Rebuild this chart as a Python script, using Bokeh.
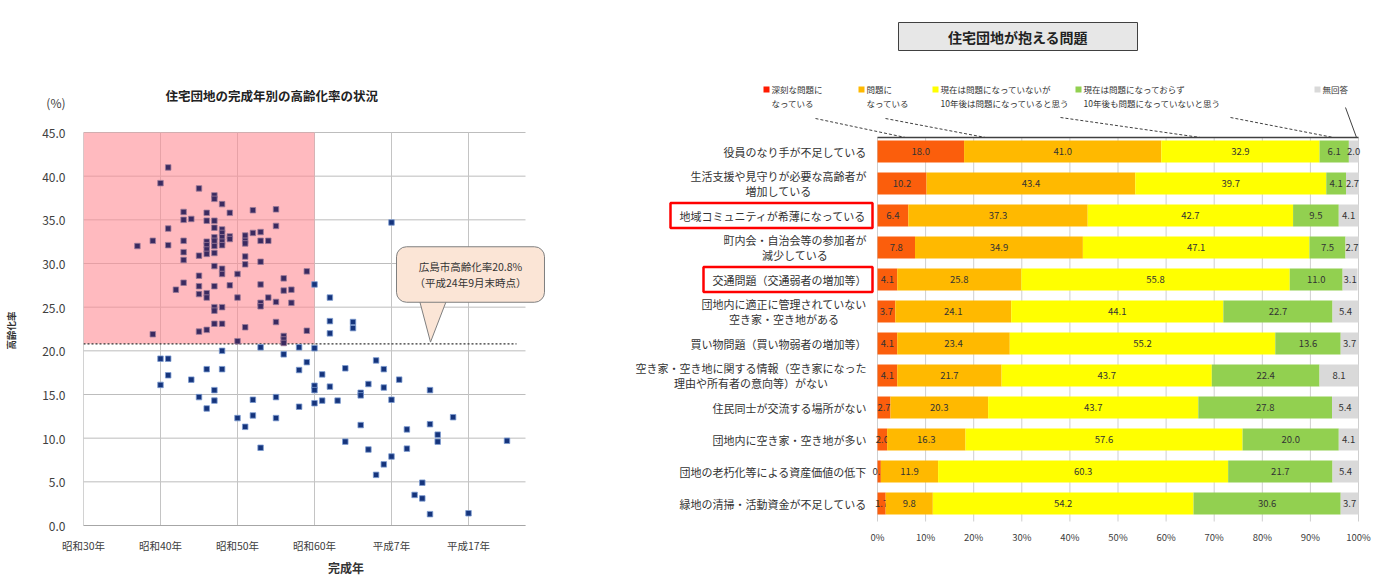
import math
from bokeh.plotting import figure
from bokeh.layouts import row
from bokeh.models import Range1d, FixedTicker, NumeralTickFormatter, Label, ColumnDataSource
from bokeh.core.properties import value
from bokeh.embed import file_html
from bokeh.resources import INLINE

FONT = "Noto Sans CJK JP"

# ---------------- left chart data ----------------
left_title = "住宅団地の完成年別の高齢化率の状況"
completion_year = [
    1966, 1965, 1970, 1972, 1972, 1973, 1968, 1971, 1974, 1977, 1980, 1968, 1969, 1971, 1972,
    1972, 1980, 1966, 1973, 1977, 1978, 1976, 1973, 1974, 1973, 1972, 1972, 1962, 1964, 1968,
    1971, 1972, 1973, 1974, 1976, 1978, 1979, 1966, 1971, 1971, 1973, 1976, 1971, 1972, 1970,
    1968, 1968, 1976, 1976, 1978, 1972, 1973, 1973, 1975, 1970, 1984, 1981, 1968, 1967, 1970,
    1970, 1971, 1971, 1972, 1974, 1978, 1981, 1982, 1975, 1979, 1978, 1978, 1980, 1982, 1972,
    1972, 1973, 1972, 1973, 1970, 1971, 1976, 1980, 1964, 1984, 1981, 1981, 1975, 1981,
    1985, 1987, 1987, 1987, 1990, 1990, 1995, 1978, 1983, 1985, 1981, 1973, 1965, 1966, 1965,
    1966, 1969, 1971, 1973, 1972, 1970, 1972, 1971, 1975, 1976, 1977, 1977, 1978, 1980, 1980,
    1983, 1983, 1984, 1985, 1985, 1985, 1986, 1986, 1987, 1988, 1989, 1989, 1991, 1991, 1991,
    1992, 1992, 1993, 1994, 1994, 1995, 1993, 1994, 1995, 1996, 1997, 1997, 1999, 1998, 1999,
    2000, 2000, 2000, 2001, 2001, 2003, 2005, 2010,
]
aging_rate = [
    41.0, 39.2, 38.6, 37.8, 37.4, 36.8, 35.9, 35.8, 35.8, 36.1, 36.2, 35.0, 35.1, 34.9, 34.9,
    34.1, 34.3, 34.0, 33.9, 33.5, 33.6, 33.2, 33.5, 33.1, 33.0, 33.0, 32.6, 32.0, 32.6, 32.6,
    32.5, 32.0, 32.5, 32.8, 32.6, 32.6, 32.6, 32.1, 32.1, 31.6, 32.1, 32.3, 31.1, 31.2, 30.9,
    31.3, 30.4, 30.8, 29.9, 30.2, 29.7, 29.4, 28.8, 28.8, 28.6, 29.1, 28.3, 27.8, 27.0, 27.4,
    26.5, 26.6, 26.1, 27.4, 27.5, 27.6, 26.9, 27.0, 26.1, 26.1, 25.5, 25.1, 25.6, 25.5, 25.0,
    24.6, 25.0, 23.1, 23.1, 22.2, 22.4, 22.7, 23.3, 21.9, 22.3, 21.7, 21.3, 21.1, 20.9,
    27.6, 26.1, 23.4, 22.0, 23.3, 22.6, 34.7, 20.4, 20.4, 20.3, 19.6, 20.0, 19.1, 19.1, 16.1,
    17.2, 16.7, 17.9, 17.9, 15.5, 14.7, 14.3, 13.4, 12.3, 11.3, 14.4, 12.6, 8.9, 14.7, 12.3,
    17.8, 13.6, 18.7, 16.0, 15.5, 14.0, 17.3, 14.3, 15.9, 14.3, 18.0, 9.6, 15.2, 14.9, 11.5,
    16.2, 8.7, 18.9, 17.9, 15.8, 14.4, 5.8, 7.0, 7.9, 16.7, 11.0, 8.8, 4.9, 3.5, 3.1,
    1.3, 15.5, 11.6, 10.4, 9.6, 12.4, 1.4, 9.7,
]
city_rate = 20.8
boundary_year = 1985
y_ticks = [0, 5, 10, 15, 20, 25, 30, 35, 40, 45]
x_tick_years = [1955, 1965, 1975, 1985, 1995, 2005]
x_tick_labels = ["昭和30年", "昭和40年", "昭和50年", "昭和60年", "平成7年", "平成17年"]
callout_text = "広島市高齢化率20.8%\n（平成24年9月末時点）"
unit_label = "(%)"
y_label = "高齢化率"
x_label = "完成年"

# ---------------- right chart data ----------------
right_title = "住宅団地が抱える問題"
problems = [
    "役員のなり手が不足している",
    "生活支援や見守りが必要な高齢者が\n増加している",
    "地域コミュニティが希薄になっている",
    "町内会・自治会等の参加者が\n減少している",
    "交通問題（交通弱者の増加等）",
    "団地内に適正に管理されていない\n空き家・空き地がある",
    "買い物問題（買い物弱者の増加等）",
    "空き家・空き地に関する情報（空き家になった\n理由や所有者の意向等）がない",
    "住民同士が交流する場所がない",
    "団地内に空き家・空き地が多い",
    "団地の老朽化等による資産価値の低下",
    "緑地の清掃・活動資金が不足している",
]
serious = [18.0, 10.2, 6.4, 7.8, 4.1, 3.7, 4.1, 4.1, 2.7, 2.0, 0.7, 1.7]
problem = [41.0, 43.4, 37.3, 34.9, 25.8, 24.1, 23.4, 21.7, 20.3, 16.3, 11.9, 9.8]
future_problem = [32.9, 39.7, 42.7, 47.1, 55.8, 44.1, 55.2, 43.7, 43.7, 57.6, 60.3, 54.2]
no_problem = [6.1, 4.1, 9.5, 7.5, 11.0, 22.7, 13.6, 22.4, 27.8, 20.0, 21.7, 30.6]
no_answer = [2.0, 2.7, 4.1, 2.7, 3.1, 5.4, 3.7, 8.1, 5.4, 4.1, 5.4, 3.7]
series_names = [
    "深刻な問題に\nなっている",
    "問題に\nなっている",
    "現在は問題になっていないが\n10年後は問題になっていると思う",
    "現在は問題になっておらず\n10年後も問題になっていないと思う",
    "無回答",
]
series_colors = ["#fb5e0c", "#ffb900", "#ffff00", "#92d050", "#d9d9d9"]
legend_colors = ["#ff1a00", "#ffb900", "#ffff00", "#92d050", "#d9d9d9"]
pct_ticks = [0, 10, 20, 30, 40, 50, 60, 70, 80, 90, 100]
highlighted = [2, 4]

# ---------------- page layout (page origin = top-left of first figure) ----------------
H = 584
BOTTOM_BORDER = 59
FRAME_BOTTOM = H - BOTTOM_BORDER      # 525
W0 = 22                               # strip holding the vertical y label
LW = 586                              # left chart figure
RW = 765                              # right chart figure

# ======================= Y-LABEL STRIP =======================
p0 = figure(width=W0, height=H, x_range=Range1d(0, W0), y_range=Range1d(FRAME_BOTTOM, 0),
            output_backend="svg", toolbar_location=None, x_axis_location=None,
            y_axis_location=None, min_border_left=0, min_border_right=0, min_border_top=0,
            min_border_bottom=BOTTOM_BORDER)
p0.outline_line_color = None
p0.xgrid.visible = False
p0.ygrid.visible = False
p0.text(x=[10], y=[330], text=[y_label], angle=math.pi / 2, text_align="center",
        text_baseline="middle", text_font=value(FONT), text_font_size=value("9.5px"),
        text_font_style="bold", text_color="#333333")

# ======================= LEFT FIGURE =======================
L_X0_PX, L_PX_PER_YEAR = 83.0, 7.7
L_TOP45_PX = 132.0
L_PX_PER_UNIT = (FRAME_BOTTOM - L_TOP45_PX) / 45.0


def lx(px):
    return x_tick_years[0] + (px - L_X0_PX) / L_PX_PER_YEAR


def ly(py):
    return (FRAME_BOTTOM - py) / L_PX_PER_UNIT


plot_end = lx(525)
p1 = figure(width=LW, height=H, x_range=Range1d(lx(L_X0_PX), lx(W0 + LW)),
            y_range=Range1d(ly(FRAME_BOTTOM), ly(0)),
            output_backend="svg", toolbar_location=None,
            min_border_left=int(L_X0_PX - W0), min_border_right=0, min_border_top=0,
            min_border_bottom=BOTTOM_BORDER)
p1.outline_line_color = None
p1.xgrid.visible = False
p1.ygrid.visible = False

unit_pos = round(ly(102), 2)
yax = p1.yaxis[0]
yax.ticker = FixedTicker(ticks=y_ticks + [unit_pos])
yax.formatter = NumeralTickFormatter(format="0.0")
yax.major_label_overrides = {unit_pos: unit_label}
yax.major_label_text_font = FONT
yax.major_label_text_font_size = "12px"
yax.major_label_text_color = "#404040"
yax.major_tick_line_color = None
yax.minor_tick_line_color = None
yax.major_tick_out = 0
yax.major_tick_in = 0
yax.major_label_standoff = 18
yax.axis_line_color = None

xax = p1.xaxis[0]
xax.ticker = FixedTicker(ticks=x_tick_years)
xax.major_label_overrides = {y: l for y, l in zip(x_tick_years, x_tick_labels)}
xax.bounds = (x_tick_years[0], plot_end)
xax.major_label_text_font = FONT
xax.major_label_text_font_size = "10.5px"
xax.major_label_text_color = "#404040"
xax.major_tick_line_color = None
xax.minor_tick_line_color = None
xax.major_tick_out = 0
xax.major_tick_in = 0
xax.major_label_standoff = 12
xax.axis_line_color = "#a6a6a6"
xax.axis_label = x_label
xax.axis_label_text_font = FONT
xax.axis_label_text_font_size = "12px"
xax.axis_label_text_font_style = "bold"
xax.axis_label_text_color = "#333333"
xax.axis_label_standoff = 3

# grid lines limited to the plot area
p1.segment(x0=[x_tick_years[0]] * len(y_ticks), y0=y_ticks, x1=[plot_end] * len(y_ticks),
           y1=y_ticks, line_color="#bdbdbd", line_width=1)
p1.segment(x0=x_tick_years[1:], y0=[0] * 5, x1=x_tick_years[1:], y1=[y_ticks[-1]] * 5,
           line_color="#c4c4c4", line_width=1)
p1.segment(x0=[x_tick_years[0]], y0=[0], x1=[x_tick_years[0]], y1=[y_ticks[-1]],
           line_color="#a6a6a6", line_width=1)

# pink zone (old estates above city rate)
p1.quad(left=x_tick_years[0], right=boundary_year, bottom=city_rate, top=y_ticks[-1],
        fill_color="#ff8c94", fill_alpha=0.6, line_color=None)
p1.segment(x0=[x_tick_years[0]], y0=[city_rate], x1=[lx(516)], y1=[city_rate],
           line_color="#333333", line_dash="2 2", line_width=1.2)

inside = [(x < boundary_year and y > city_rate) for x, y in zip(completion_year, aging_rate)]
src_in = ColumnDataSource(dict(x=[x for x, f in zip(completion_year, inside) if f],
                               y=[y for y, f in zip(aging_rate, inside) if f]))
src_out = ColumnDataSource(dict(x=[x for x, f in zip(completion_year, inside) if not f],
                                y=[y for y, f in zip(aging_rate, inside) if not f]))
p1.scatter("x", "y", source=src_in, marker="square", size=5.5,
           fill_color="#3a2a60", line_color="#9a7a98", line_width=0.8)
p1.scatter("x", "y", source=src_out, marker="square", size=5.5,
           fill_color="#15347c", line_color="#7b9bd0", line_width=0.8)

# callout
p1.patch([lx(419), lx(446), lx(430)], [ly(300), ly(300), city_rate + 0.2],
         fill_color="#fbe5d6", line_color="#7f7f7f", line_width=1)
p1.add_layout(Label(x=lx(470), y=ly(274), text=callout_text, text_align="center",
                    text_baseline="middle", text_font=FONT, text_font_size="10.5px",
                    text_color="#333333", text_line_height=1.1,
                    background_fill_color="#fbe5d6", border_line_color="#7f7f7f",
                    border_line_width=1, padding=(18, 12), border_radius=10))

# title
p1.text(x=[lx(165)], y=[ly(95)], text=[left_title], text_align="left", text_baseline="middle",
        text_font=value(FONT), text_font_size=value("12.5px"), text_font_style="bold",
        text_color="#222222")

# ======================= RIGHT FIGURE =======================
PX0, PX100 = 877.0, 1358.0
PPU = (PX100 - PX0) / 100.0
FIG_LEFT = float(W0 + LW)
ROW1_PY, ROW_STEP = 151.0, 32.0


def fx(px):
    return (px - PX0) / PPU


def fy(py):
    return (py - ROW1_PY) / ROW_STEP + 1


p2 = figure(width=RW, height=H,
            x_range=Range1d(fx(FIG_LEFT), fx(FIG_LEFT + RW)),
            y_range=Range1d(fy(FRAME_BOTTOM), fy(0)),
            output_backend="svg", toolbar_location=None, y_axis_location=None,
            min_border_left=0, min_border_right=0, min_border_top=0,
            min_border_bottom=BOTTOM_BORDER)
p2.outline_line_color = None
p2.xgrid.visible = False
p2.ygrid.visible = False

ax2 = p2.xaxis[0]
ax2.ticker = FixedTicker(ticks=pct_ticks)
ax2.major_label_overrides = {t: f"{t}%" for t in pct_ticks}
ax2.major_label_text_font = FONT
ax2.major_label_text_font_size = "9.5px"
ax2.major_label_text_color = "#404040"
ax2.axis_line_color = None
ax2.major_tick_line_color = None
ax2.minor_tick_line_color = None
ax2.major_tick_out = 0
ax2.major_tick_in = 0
ax2.major_label_standoff = 4

# grid lines for the bar area
p2.segment(x0=pct_ticks, y0=[fy(137)] * len(pct_ticks), x1=pct_ticks,
           y1=[fy(521)] * len(pct_ticks), line_color="#cfcfcf", line_width=1)

rows = list(range(1, len(problems) + 1))
series = [serious, problem, future_problem, no_problem, no_answer]
cum = [0.0] * len(problems)
for vals, col in zip(series, series_colors):
    left = cum[:]
    right = [a + b for a, b in zip(cum, vals)]
    src = ColumnDataSource(dict(y=rows, left=left, right=right,
                                mid=[(a + b) / 2 for a, b in zip(left, right)],
                                lab=[f"{v:.1f}" for v in vals]))
    p2.hbar(y="y", left="left", right="right", height=22 / ROW_STEP, source=src,
            fill_color=col, line_color=None)
    p2.text(x="mid", y="y", text="lab", source=src, text_align="center",
            text_baseline="middle", text_font=value(FONT), text_font_size=value("9.5px"),
            text_color="#333333")
    cum = right

# top axis line
p2.segment(x0=[pct_ticks[0]], y0=[fy(137)], x1=[pct_ticks[-1]], y1=[fy(137)],
           line_color="#404040", line_width=1.6)

# category labels
LAB_FS = 11.0
LAB_RIGHT = 866.0


def text_w(s, fs):
    return sum(fs if ord(c) > 255 else 0.6 * fs for c in s)


single_x, single_y, single_t = [], [], []
multi_x, multi_y, multi_t = [], [], []
for r, lab in zip(rows, problems):
    lines = lab.split("\n")
    if len(lines) == 1:
        single_x.append(fx(LAB_RIGHT)); single_y.append(r); single_t.append(lab)
    else:
        w = max(text_w(l, LAB_FS) for l in lines)
        multi_x.append(fx(LAB_RIGHT - w / 2)); multi_y.append(r); multi_t.append(lab)
p2.text(x=single_x, y=single_y, text=single_t, text_align="right", text_baseline="middle",
        text_font=value(FONT), text_font_size=value("11px"), text_color="#333333")
p2.text(x=multi_x, y=multi_y, text=multi_t, text_align="center", text_baseline="middle",
        text_font=value(FONT), text_font_size=value("11px"), text_color="#333333",
        text_line_height=0.95)

# red highlight boxes
for r in highlighted:
    w = text_w(problems[r], LAB_FS)
    p2.quad(left=fx(LAB_RIGHT - w - 9), right=fx(LAB_RIGHT + 6),
            top=fy(ROW1_PY + r * ROW_STEP - 12.5), bottom=fy(ROW1_PY + r * ROW_STEP + 12.5),
            fill_color=None, line_color="#ff0000", line_width=2.5)

# title box
p2.quad(left=fx(898), right=fx(1137), top=fy(22), bottom=fy(50),
        fill_color="#e7e7e7", line_color="#404040", line_width=1)
p2.text(x=[fx(1017.5)], y=[fy(36)], text=[right_title], text_align="center",
        text_baseline="middle", text_font=value(FONT), text_font_size=value("14px"),
        text_font_style="bold", text_color="#222222")

# legend
leg_px = [766, 861, 935, 1078, 1317]
p2.scatter(x=[fx(v) for v in leg_px], y=[fy(89)] * 5, marker="square", size=6,
           fill_color=legend_colors, line_color=None)
p2.text(x=[fx(v + 5) for v in leg_px], y=[fy(82)] * 5, text=series_names,
        text_align="left", text_baseline="top", text_font=value(FONT),
        text_font_size=value("8.5px"), text_color="#333333", text_line_height=1.2)

# leader lines
p2.segment(x0=[fx(815), fx(885), fx(1060), fx(1230)], y0=[fy(118), fy(118), fy(117), fy(117)],
           x1=[fx(905), fx(985), fx(1200), fx(1333)], y1=[fy(137)] * 4,
           line_color="#404040", line_dash="3 2", line_width=1)
p2.segment(x0=[fx(1345)], y0=[fy(107)], x1=[fx(1356)], y1=[fy(137)],
           line_color="#404040", line_width=1)

layout = row(p0, p1, p2)
open("out.html", "w").write(file_html(layout, INLINE))
